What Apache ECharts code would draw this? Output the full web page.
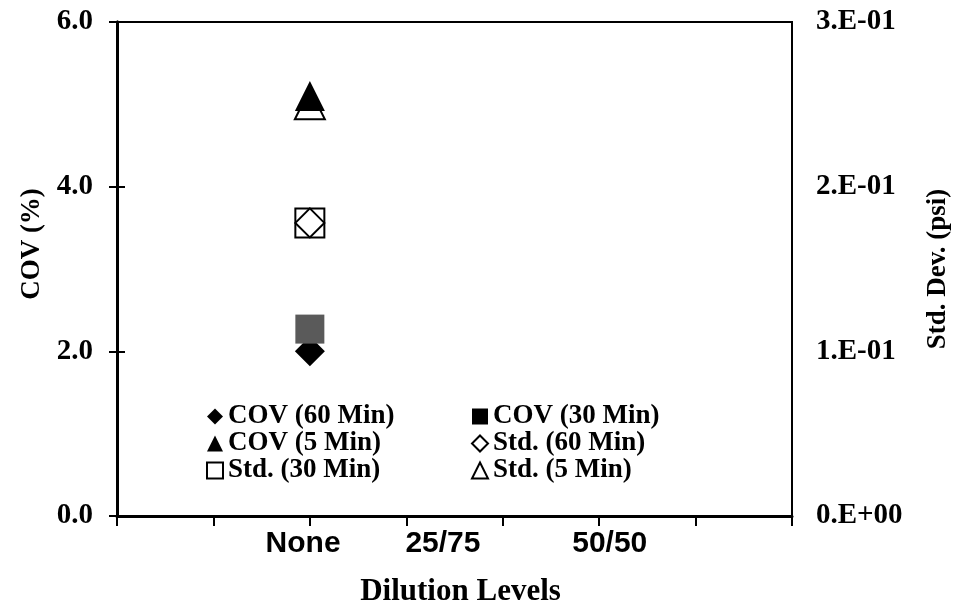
<!DOCTYPE html>
<html>
<head>
<meta charset="utf-8">
<script src="https://cdn.jsdelivr.net/npm/echarts@6/dist/echarts.min.js"></script>
<style>
  html, body { margin: 0; padding: 0; background: #fff; }
  #chart { width: 955px; height: 609px; }
</style>
</head>
<body>
<div id="chart"></div>
<script>
// dilution levels shown under the x axis, and where the label sits on the axis
var levels = ['None', '25/75', '50/50'];
var levelAt = [1.93, 3.38, 5.11];
var noneSlot = 2;

// y tick labels
var covTicks = ['0.0', '2.0', '4.0', '6.0'];
var stdTicks = ['0.E+00', '1.E-01', '2.E-01', '3.E-01'];

// measured values (only the "None" level has points)
var cov60 = [2.0];
var cov30 = [2.27];
var cov5 = [5.1];
var std60 = [0.178];
var std30 = [0.178];
var std5 = [0.25];

var serif = '"Liberation Serif", "Times New Roman", serif';
var sans = '"Liberation Sans", Arial, sans-serif';

function pts(arr) {
  return arr.map(function (v) { return [noneSlot, v]; });
}

var openStyle = { color: '#fff', borderColor: '#000', borderWidth: 2, opacity: 1 };
var legendText = { fontFamily: serif, fontWeight: 'bold', fontSize: 27, color: '#000', lineHeight: 25 };

var myChart = echarts.init(document.getElementById('chart'));

var option = {
  animation: false,
  backgroundColor: '#fff',
  grid: {
    left: 117, right: 163, top: 22, bottom: 93, outerBoundsMode: 'none',
    show: true, borderColor: '#000', borderWidth: 2
  },
  legend: [
    {
      orient: 'vertical', left: 201, top: 398, itemGap: 0, itemWidth: 16, itemHeight: 16,
      textStyle: legendText,
      data: ['COV (60 Min)', 'COV (5 Min)', 'Std. (30 Min)']
    },
    {
      orient: 'vertical', left: 466, top: 398, itemGap: 0, itemWidth: 16, itemHeight: 16,
      textStyle: legendText,
      data: [{ name: 'COV (30 Min)', itemStyle: { color: '#000' } }, 'Std. (60 Min)', 'Std. (5 Min)']
    }
  ],
  xAxis: [
    {
      type: 'value', min: 0, max: 7, interval: 1,
      name: 'Dilution Levels', nameLocation: 'middle', nameGap: 60,
      nameTextStyle: { fontFamily: serif, fontWeight: 'bold', fontSize: 31, color: '#000', padding: [0, 0, 0, 12] },
      axisLine: { show: true, lineStyle: { color: '#000', width: 3 } },
      axisTick: { show: true, length: 10, lineStyle: { color: '#000', width: 2 } },
      axisLabel: { show: false },
      splitLine: { show: false }
    },
    {
      type: 'value', min: 0, max: 7, position: 'bottom',
      axisLine: { show: false },
      axisTick: { show: false },
      splitLine: { show: false },
      axisLabel: {
        show: true, margin: 13, customValues: levelAt,
        fontFamily: sans, fontWeight: 'bold', fontSize: 30, color: '#000',
        formatter: function (v) {
          var best = 0;
          levelAt.forEach(function (p, i) {
            if (Math.abs(p - v) < Math.abs(levelAt[best] - v)) best = i;
          });
          return levels[best];
        }
      }
    }
  ],
  yAxis: [
    {
      type: 'value', min: 0, max: 6, interval: 2, position: 'left',
      name: 'COV (%)', nameLocation: 'middle', nameGap: 58, nameRotate: 90,
      nameTextStyle: { fontFamily: serif, fontWeight: 'bold', fontSize: 27, color: '#000', padding: [0, 0, 0, 50] },
      axisLine: { show: true, lineStyle: { color: '#000', width: 3 } },
      axisTick: { show: true, length: 8, lineStyle: { color: '#000', width: 2 } },
      splitLine: { show: false },
      axisLabel: {
        margin: 24, fontFamily: serif, fontWeight: 'bold', fontSize: 29, color: '#000',
        formatter: function (v) { return covTicks[Math.round(v / 2)]; }
      }
    },
    {
      type: 'value', min: 0, max: 0.3, interval: 0.1, position: 'right',
      name: 'Std. Dev. (psi)', nameLocation: 'middle', nameGap: 133, nameRotate: 90,
      nameTextStyle: { fontFamily: serif, fontWeight: 'bold', fontSize: 27, color: '#000' },
      axisLine: { show: true, lineStyle: { color: '#000', width: 3 } },
      axisTick: { show: true, length: 8, lineStyle: { color: '#000', width: 2 } },
      splitLine: { show: false },
      axisLabel: {
        margin: 24, fontFamily: serif, fontWeight: 'bold', fontSize: 29, color: '#000',
        formatter: function (v) { return stdTicks[Math.round(v * 10)]; }
      }
    }
  ],
  series: [
    { name: 'COV (60 Min)', type: 'scatter', yAxisIndex: 0, symbol: 'diamond', symbolSize: 30, z: 2,
      itemStyle: { color: '#000', opacity: 1 }, data: pts(cov60) },
    { name: 'COV (30 Min)', type: 'scatter', yAxisIndex: 0, symbol: 'rect', symbolSize: 29, z: 3,
      itemStyle: { color: '#5a5a5a', opacity: 1 }, data: pts(cov30) },
    { name: 'COV (5 Min)', type: 'scatter', yAxisIndex: 0, symbol: 'triangle', symbolSize: 30, z: 4,
      itemStyle: { color: '#000', opacity: 1 }, data: pts(cov5) },
    { name: 'Std. (60 Min)', type: 'scatter', yAxisIndex: 1, symbol: 'diamond', symbolSize: 29, z: 3,
      itemStyle: openStyle, data: pts(std60) },
    { name: 'Std. (30 Min)', type: 'scatter', yAxisIndex: 1, symbol: 'rect', symbolSize: 29, z: 2,
      itemStyle: openStyle, data: pts(std30) },
    { name: 'Std. (5 Min)', type: 'scatter', yAxisIndex: 1, symbol: 'triangle', symbolSize: 30, z: 2,
      itemStyle: openStyle, data: pts(std5) }
  ]
};

myChart.setOption(option);
</script>
</body>
</html>
